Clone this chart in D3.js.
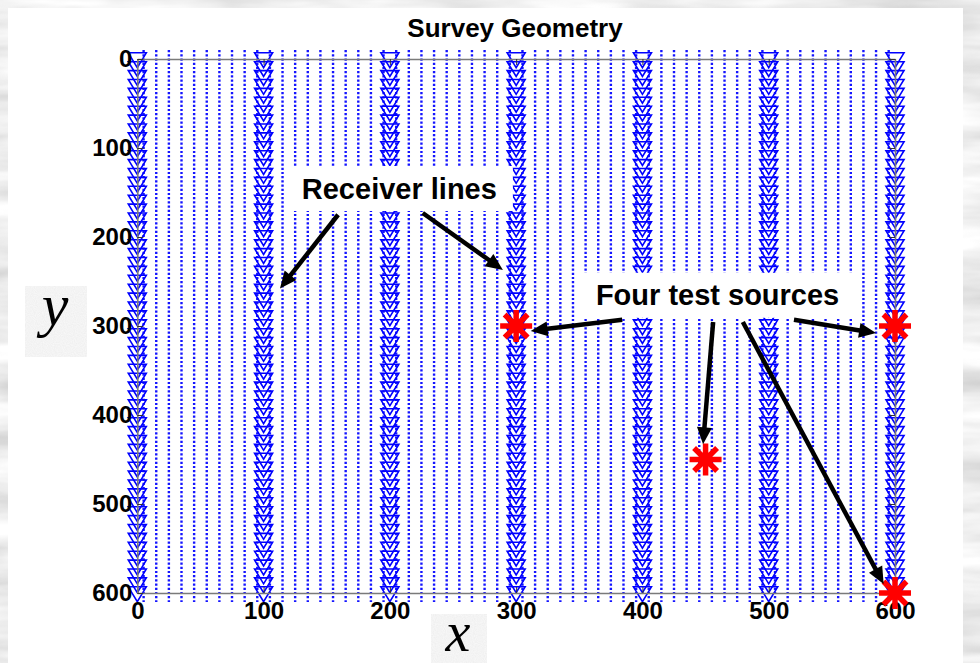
<!DOCTYPE html>
<html>
<head>
<meta charset="utf-8">
<script src="https://cdn.jsdelivr.net/npm/d3@7"></script>
<style>
  html, body { margin: 0; padding: 0; background: #d9d9d9; }
  svg { display: block; }
</style>
</head>
<body>
<svg id="chart" width="980" height="663"></svg>
<script>
// Survey geometry: receiver lines (triangles), shot lines (dotted) and four test sources.
const title = "Survey Geometry";
const xTicks = [0, 100, 200, 300, 400, 500, 600];
const yTicks = [0, 100, 200, 300, 400, 500, 600];

// receiver lines (x positions) and receiver stations along each line (y)
const receiverLineX = [0, 100, 200, 300, 400, 500, 600];
const receiverStationY = [0, 10, 20, 30, 40, 50, 60, 70, 80, 90, 100, 110, 120, 130, 140, 150,
  160, 170, 180, 190, 200, 210, 220, 230, 240, 250, 260, 270, 280, 290, 300, 310, 320, 330,
  340, 350, 360, 370, 380, 390, 400, 410, 420, 430, 440, 450, 460, 470, 480, 490, 500, 510,
  520, 530, 540, 550, 560, 570, 580, 590, 600];

// shot lines (dotted), x positions and their y extent
const shotLineX = [5, 15, 25, 35, 45, 55, 65, 75, 85, 95, 105, 115, 125, 135, 145, 155, 165,
  175, 185, 195, 205, 215, 225, 235, 245, 255, 265, 275, 285, 295, 305, 315, 325, 335, 345,
  355, 365, 375, 385, 395, 405, 415, 425, 435, 445, 455, 465, 475, 485, 495, 505, 515, 525,
  535, 545, 555, 565, 575, 585, 595];
const shotLineSpan = [-10, 610];

// test source positions [x, y]
const testSources = [[300, 300], [450, 450], [600, 300], [600, 600]];

// callouts: label anchor (data units) and arrows [fromX, fromY] -> [toX, toY]
const calloutLabels = ["Receiver lines", "Four test sources"];
const calloutAnchors = [[207.5, 145.5], [459.5, 265.5]];
const receiverArrows = [[159, 175], [226, 173]];
const receiverArrowTips = [[113, 258], [289.5, 237]];
const sourceArrows = [[384, 293], [456, 295.5], [520, 293], [479.5, 295.5]];
const sourceArrowTips = [[311.5, 305.5], [448, 433], [585, 308], [591, 590]];

const svg = d3.select("#chart");
const W = 980, H = 663;

// ---- textured backdrop ----
const defs = svg.append("defs");
const marble = defs.append("filter").attr("id", "marble")
  .attr("x", 0).attr("y", 0).attr("width", "100%").attr("height", "100%");
marble.append("feTurbulence").attr("type", "fractalNoise")
  .attr("baseFrequency", "0.006 0.035").attr("numOctaves", 4).attr("seed", 7);
marble.append("feColorMatrix").attr("type", "matrix")
  .attr("values", "0.7 0 0 0 0.5  0.7 0 0 0 0.5  0.7 0 0 0 0.5  0 0 0 0 1");
const speckle = defs.append("filter").attr("id", "speckle")
  .attr("x", 0).attr("y", 0).attr("width", "100%").attr("height", "100%");
speckle.append("feTurbulence").attr("type", "fractalNoise")
  .attr("baseFrequency", "0.9").attr("numOctaves", 1).attr("seed", 3);
speckle.append("feColorMatrix").attr("type", "matrix")
  .attr("values", "0.12 0 0 0 0.84  0.12 0 0 0 0.84  0.12 0 0 0 0.84  0 0 0 0 1");

svg.append("rect").attr("width", W).attr("height", H).attr("filter", "url(#marble)");
svg.append("rect").attr("x", 8).attr("y", 8).attr("width", 955).attr("height", H - 8)
  .attr("fill", "#ffffff");

// ---- scales ----
const x = d3.scaleLinear().domain([0, 600]).range([137.3, 895]);
const y = d3.scaleLinear().domain([0, 600]).range([59, 593]);

const plot = svg.append("g");

// shot lines
plot.append("g").selectAll("line").data(shotLineX).join("line")
  .attr("x1", d => x(d)).attr("x2", d => x(d))
  .attr("y1", y(shotLineSpan[0])).attr("y2", y(shotLineSpan[1]))
  .attr("stroke", "#1414ff").attr("stroke-width", 2.4)
  .attr("stroke-dasharray", "2.2,2");

// receivers
const stations = receiverLineX.flatMap(rx => receiverStationY.map(ry => [rx, ry]));
const tri = "M-9,-6.2L9,-6.2L0,8.6Z";
plot.append("g").selectAll("path").data(stations).join("path")
  .attr("transform", d => `translate(${x(d[0])},${y(d[1])})`)
  .attr("d", tri).attr("fill", "none").attr("stroke", "#0000ff")
  .attr("stroke-width", 1.6).attr("stroke-linejoin", "miter");

// axes (box with inward ticks)
const axFont = "'Liberation Sans', Arial, Helvetica, sans-serif";
function styleAxis(g, showText) {
  g.select(".domain").attr("stroke", "#7a7a7a").attr("stroke-width", 1.6);
  g.selectAll(".tick line").attr("stroke", "#333").attr("stroke-width", 1);
  g.selectAll(".tick text").attr("fill", "#000").attr("font-family", axFont)
    .attr("font-weight", "bold").attr("font-size", 24)
    .style("display", showText ? null : "none");
}
svg.append("g").attr("transform", `translate(0,${y(600)})`)
  .call(d3.axisBottom(x).tickValues(xTicks).tickFormat(d3.format("d"))
    .tickSizeInner(-6).tickSizeOuter(0).tickPadding(9))
  .call(g => styleAxis(g, true));
svg.append("g").attr("transform", `translate(0,${y(0)})`)
  .call(d3.axisTop(x).tickValues(xTicks).tickSizeInner(-6).tickSizeOuter(0))
  .call(g => styleAxis(g, false));
svg.append("g").attr("transform", `translate(${x(0)},0)`)
  .call(d3.axisLeft(y).tickValues(yTicks).tickFormat(d3.format("d"))
    .tickSizeInner(-6).tickSizeOuter(0).tickPadding(5))
  .call(g => styleAxis(g, true));
svg.append("g").attr("transform", `translate(${x(600)},0)`)
  .call(d3.axisRight(y).tickValues(yTicks).tickSizeInner(-6).tickSizeOuter(0))
  .call(g => styleAxis(g, false));

// test sources (asterisks)
const star = "M-16,0L16,0M0,-16L0,16M-11.5,-11.5L11.5,11.5M-11.5,11.5L11.5,-11.5";
svg.append("g").selectAll("path").data(testSources).join("path")
  .attr("transform", d => `translate(${x(d[0])},${y(d[1])})`)
  .attr("d", star).attr("fill", "none").attr("stroke", "#ff0000")
  .attr("stroke-width", 5.5).attr("stroke-linecap", "butt");

// callout labels on white boxes
const labelFont = 29;
const labelG = svg.append("g");
calloutLabels.forEach((txt, i) => {
  const [ax, ay] = calloutAnchors[i];
  const g = labelG.append("g");
  const box = g.append("rect").attr("fill", "#ffffff");
  const t = g.append("text").text(txt)
    .attr("x", x(ax)).attr("y", y(ay)).attr("dy", "0.35em")
    .attr("text-anchor", "middle").attr("font-family", axFont)
    .attr("font-weight", "bold").attr("font-size", labelFont).attr("fill", "#000");
  const bb = t.node().getBBox();
  box.attr("x", bb.x - 16).attr("y", y(ay) - 22.5)
    .attr("width", bb.width + 32).attr("height", 45);
});

// arrows
function arrow(g, x1, y1, x2, y2) {
  const dx = x2 - x1, dy = y2 - y1, len = Math.hypot(dx, dy);
  const ux = dx / len, uy = dy / len, hl = 17, hw = 7.5;
  const bx = x2 - ux * hl, by = y2 - uy * hl;
  g.append("line").attr("x1", x1).attr("y1", y1).attr("x2", bx + ux * 2).attr("y2", by + uy * 2)
    .attr("stroke", "#000").attr("stroke-width", 4.5);
  g.append("path")
    .attr("d", `M${x2},${y2}L${bx - uy * hw},${by + ux * hw}L${bx + uy * hw},${by - ux * hw}Z`)
    .attr("fill", "#000");
}
const arrowG = svg.append("g");
receiverArrows.forEach((s, i) => arrow(arrowG, x(s[0]), y(s[1]),
  x(receiverArrowTips[i][0]), y(receiverArrowTips[i][1])));
sourceArrows.forEach((s, i) => arrow(arrowG, x(s[0]), y(s[1]),
  x(sourceArrowTips[i][0]), y(sourceArrowTips[i][1])));

// title
svg.append("text").text(title).attr("x", 515).attr("y", 37)
  .attr("text-anchor", "middle").attr("font-family", axFont)
  .attr("font-weight", "bold").attr("font-size", 26).attr("fill", "#000");

// axis name tiles
const serif = "'Liberation Serif', 'Times New Roman', serif";
svg.append("rect").attr("x", 25).attr("y", 286).attr("width", 62).attr("height", 71)
  .attr("filter", "url(#speckle)");
svg.append("text").text("y").attr("x", 55).attr("y", 325)
  .attr("text-anchor", "middle").attr("font-family", serif)
  .attr("font-style", "italic").attr("font-size", 60).attr("fill", "#000");
svg.append("rect").attr("x", 431).attr("y", 614).attr("width", 56).attr("height", 49)
  .attr("filter", "url(#speckle)");
svg.append("text").text("x").attr("x", 458).attr("y", 651)
  .attr("text-anchor", "middle").attr("font-family", serif)
  .attr("font-style", "italic").attr("font-size", 56).attr("fill", "#000");
</script>
</body>
</html>
